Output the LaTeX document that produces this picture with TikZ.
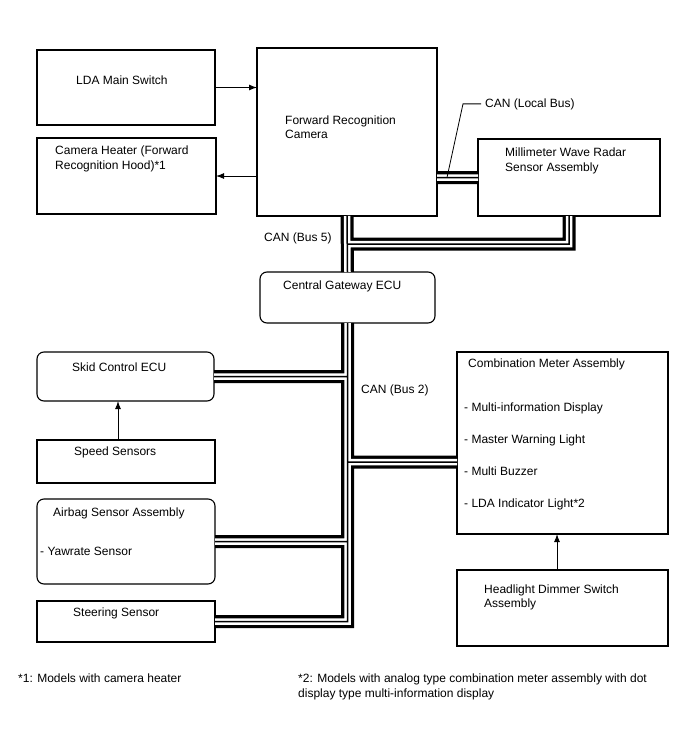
\documentclass[tikz,border=0pt]{standalone}
\usepackage{fontspec}
\setmainfont{Liberation Sans}
\usetikzlibrary{arrows.meta, calc}
\tikzset{
	unitbox/.style={rectangle, draw=black, line width=1.1pt, inner sep=0pt, outer sep=0pt},
	ecubox/.style={unitbox, rounded corners=7pt},
	txt/.style={anchor=base west, inner sep=0pt, font=\fontsize{12}{14}\selectfont},
	sigarr/.style={-{Latex[length=8pt, width=6pt]}, line width=1pt},
	leader/.style={line width=0.8pt}
}

\begin{document}
\begin{tikzpicture}[x=1pt, y=-1pt]
	\useasboundingbox (0,0) rectangle (688,755);
	% units
	\node[unitbox, minimum width=178pt, minimum height=75pt] (lda) at (126,87.5) {};
	\node[unitbox, minimum width=179pt, minimum height=76pt] (heater) at (126.5,176) {};
	\node[unitbox, minimum width=180pt, minimum height=168pt] (cam) at (347,132) {};
	\node[unitbox, minimum width=182pt, minimum height=77pt] (radar) at (569,177.5) {};
	\node[ecubox, minimum width=175pt, minimum height=51pt] (gw) at (347.5,297.5) {};
	\node[ecubox, minimum width=177pt, minimum height=49pt] (skid) at (125.5,376.5) {};
	\node[unitbox, minimum width=178pt, minimum height=43pt] (speed) at (126,461.5) {};
	\node[ecubox, minimum width=178pt, minimum height=85pt] (air) at (126,541.5) {};
	\node[unitbox, minimum width=178pt, minimum height=41pt] (steer) at (126,621.5) {};
	\node[unitbox, minimum width=211pt, minimum height=182pt] (meter) at (562.5,443) {};
	\node[unitbox, minimum width=211pt, minimum height=76pt] (head) at (562.5,608) {};
	\coordinate (j5) at ($(cam.south)+(0,28)$);
	\coordinate (mtap) at ($(meter.west)+(0,19)$);
	\coordinate (localpt) at ($(cam.east |- radar.west)+(10,0)$);
	% CAN lines
	\foreach \w/\c in {13pt/black, 6.5pt/white, 1.5pt/black}
		\draw[line width=\w, draw=\c]
			(cam.south) -- (gw.north)
			(j5) -| (radar.south)
			(cam.east |- radar.west) -- (radar.west)
			(gw.south) |- (steer.east)
			(gw.south |- skid.east) -- (skid.east)
			(gw.south |- air.east) -- (air.east)
			(gw.south |- mtap) -- (mtap);
	% signals
	\draw[sigarr] (lda.east) -- (lda.east -| cam.west);
	\draw[sigarr] (cam.west |- heater.east) -- (heater.east);
	\draw[sigarr] ($(speed.north)+(-8,0)$) -- ($(skid.south)+(-7.5,0)$);
	\draw[sigarr] ($(head.north)+(-5.5,0)$) -- ($(meter.south)+(-5.5,0)$);
	% texts
	\node[txt] (ldatxt) at (76,84) {LDA Main Switch};
	\node[txt] (heatertxt1) at (55,154) {Camera Heater (Forward};
	\node[txt] (heatertxt2) at (55,169) {Recognition Hood)*1};
	\node[txt] (camtxt1) at (285,124) {Forward Recognition};
	\node[txt] (camtxt2) at (285,138) {Camera};
	\node[txt] (radartxt1) at (505,156) {Millimeter Wave Radar};
	\node[txt] (radartxt2) at (505,171) {Sensor Assembly};
	\node[txt] (canlocal) at (485,107) {CAN (Local Bus)};
	\draw[leader] ($(canlocal.west)+(-4,0)$) -- ++(-18,0) -- (localpt);
	\node[txt] (canbus5) at (264,241) {CAN (Bus 5)};
	\node[txt] (gwtxt) at (283,289) {Central Gateway ECU};
	\node[txt] (canbus2) at (361,393) {CAN (Bus 2)};
	\node[txt] (skidtxt) at (72,371) {Skid Control ECU};
	\node[txt] (speedtxt) at (74,455) {Speed Sensors};
	\node[txt] (airtxt1) at (53,516) {Airbag Sensor Assembly};
	\node[txt] (airtxt2) at (40,555) {- Yawrate Sensor};
	\node[txt] (steertxt) at (73,616) {Steering Sensor};
	\node[txt] (metertxt) at (468,367) {Combination Meter Assembly};
	\node[txt] (meteritem1) at (464,411) {- Multi-information Display};
	\node[txt] (meteritem2) at (464,443) {- Master Warning Light};
	\node[txt] (meteritem3) at (464,475) {- Multi Buzzer};
	\node[txt] (meteritem4) at (464,507) {- LDA Indicator Light*2};
	\node[txt] (headtxt1) at (484,593) {Headlight Dimmer Switch};
	\node[txt] (headtxt2) at (484,607) {Assembly};
	\node[txt] (note1) at (18,682) {*1: Models with camera heater};
	\node[txt] (note2a) at (298,682) {*2: Models with analog type combination meter assembly with dot};
	\node[txt] (note2b) at (298,697) {display type multi-information display};
\end{tikzpicture}
\end{document}
